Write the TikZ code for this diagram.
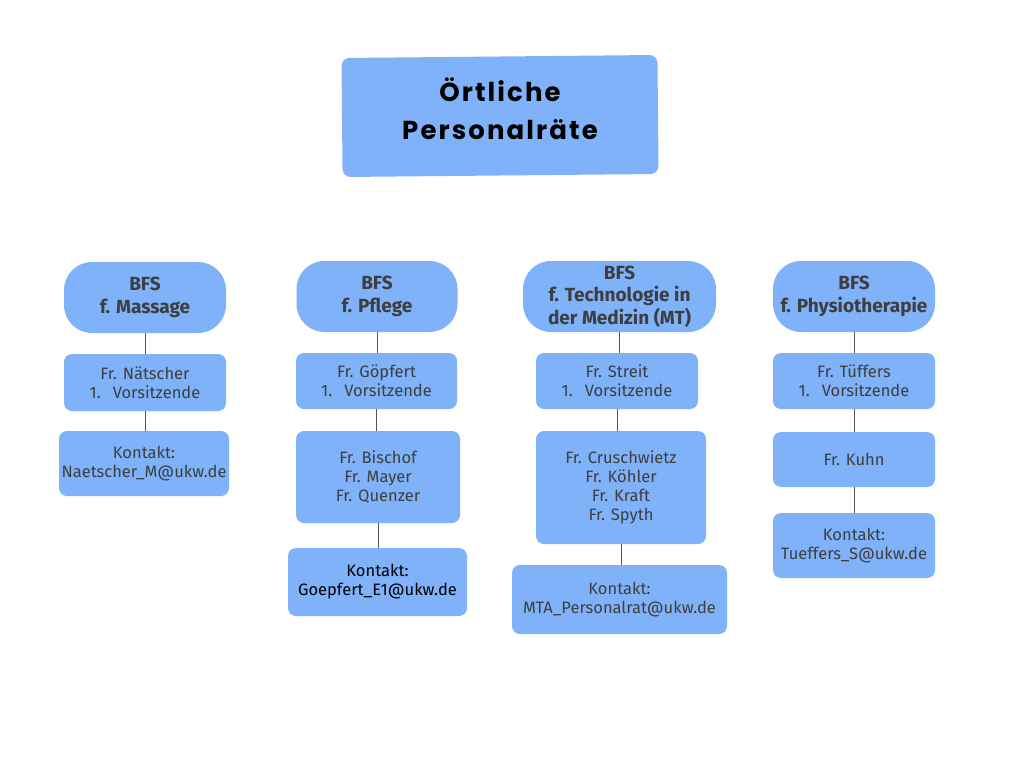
\documentclass[tikz,border=0pt]{standalone}
\usepackage{fontspec}
\setmainfont{Fira Sans}
\newfontfamily\titlefont[LetterSpace=8]{Poppins}
\definecolor{boxblue}{RGB}{127,178,248}
\definecolor{txtgray}{RGB}{62,62,62}
\definecolor{linkgray}{RGB}{85,85,85}
\begin{document}
\begin{tikzpicture}[x=1pt,y=-1pt,
  box/.style={fill=boxblue, rounded corners=8pt, inner sep=0pt, align=center, text=txtgray, font=\fontsize{16.5}{19}\selectfont},
  head/.style={box, rounded corners=28pt, font=\bfseries\fontsize{19}{22.5}\selectfont},
  titlebox/.style={fill=boxblue, rounded corners=8pt, inner sep=0pt},
  titletext/.style={inner sep=0pt, align=center, text=black, font=\titlefont\bfseries\fontsize{26}{38}\selectfont},
  link/.style={draw=linkgray, line width=0.9pt}]
\useasboundingbox (0,0) rectangle (1024,768);
\fill[white] (0,0) rectangle (1024,768);

\node[titlebox, minimum width=316pt, minimum height=119pt, rotate=0.55] (titlebg) at (500,116) {};
\node[titletext] (title) at (500,109) {Örtliche\\Personalräte};

% Column 1
\node[head, minimum width=162pt, minimum height=71pt] (h1) at (145,297.5) {BFS\\f. Massage};
\node[box, minimum width=162pt, minimum height=57pt] (b1a) at (145,382.5) {Fr. Nätscher\\1.\hspace{12pt}Vorsitzende};
\node[box, minimum width=170pt, minimum height=65pt] (b1b) at (144,463.5) {Kontakt:\\Naetscher\_M@ukw.de};

% Column 2
\node[head, minimum width=161pt, minimum height=71pt] (h2) at (377,296.5) {BFS\\f. Pflege};
\node[box, minimum width=161pt, minimum height=56pt] (b2a) at (376.5,381) {Fr. Göpfert\\1.\hspace{12pt}Vorsitzende};
\node[box, minimum width=164pt, minimum height=92pt] (b2b) at (378,477) {Fr. Bischof\\Fr. Mayer\\Fr. Quenzer};
\node[box, minimum width=179pt, minimum height=68pt, text=black] (b2c) at (377.5,582) {Kontakt:\\Goepfert\_E1@ukw.de};

% Column 3
\node[head, minimum width=193pt, minimum height=71pt] (h3) at (619.5,296.5) {BFS\\f. Technologie in\\der Medizin (MT)};
\node[box, minimum width=162pt, minimum height=56pt] (b3a) at (617,381) {Fr. Streit\\1.\hspace{12pt}Vorsitzende};
\node[box, minimum width=170pt, minimum height=113pt] (b3b) at (621,487.5) {Fr. Cruschwietz\\Fr. Köhler\\Fr. Kraft\\Fr. Spyth};
\node[box, minimum width=215pt, minimum height=69pt] (b3c) at (619.5,599.5) {Kontakt:\\MTA\_Personalrat@ukw.de};

% Column 4
\node[head, minimum width=162pt, minimum height=71pt] (h4) at (854,296.5) {BFS\\f. Physiotherapie};
\node[box, minimum width=162pt, minimum height=56pt] (b4a) at (854,381) {Fr. Tüffers\\1.\hspace{12pt}Vorsitzende};
\node[box, minimum width=162pt, minimum height=55pt] (b4b) at (854,459.5) {Fr. Kuhn};
\node[box, minimum width=162pt, minimum height=65pt] (b4c) at (854,545.5) {Kontakt:\\Tueffers\_S@ukw.de};

% Connectors
\draw[link] (h1.south) -- (h1.south |- b1a.north);
\draw[link] (b1a.south) -- (b1a.south |- b1b.north);
\draw[link] (h2.south) -- (h2.south |- b2a.north);
\draw[link] (b2a.south) -- (b2a.south |- b2b.north);
\draw[link] (b2b.south) -- (b2b.south |- b2c.north);
\draw[link] (h3.south) -- (h3.south |- b3a.north);
\draw[link] (b3a.south) -- (b3a.south |- b3b.north);
\draw[link] (b3b.south) -- (b3b.south |- b3c.north);
\draw[link] (h4.south) -- (h4.south |- b4a.north);
\draw[link] (b4a.south) -- (b4a.south |- b4b.north);
\draw[link] (b4b.south) -- (b4b.south |- b4c.north);
\end{tikzpicture}
\end{document}
